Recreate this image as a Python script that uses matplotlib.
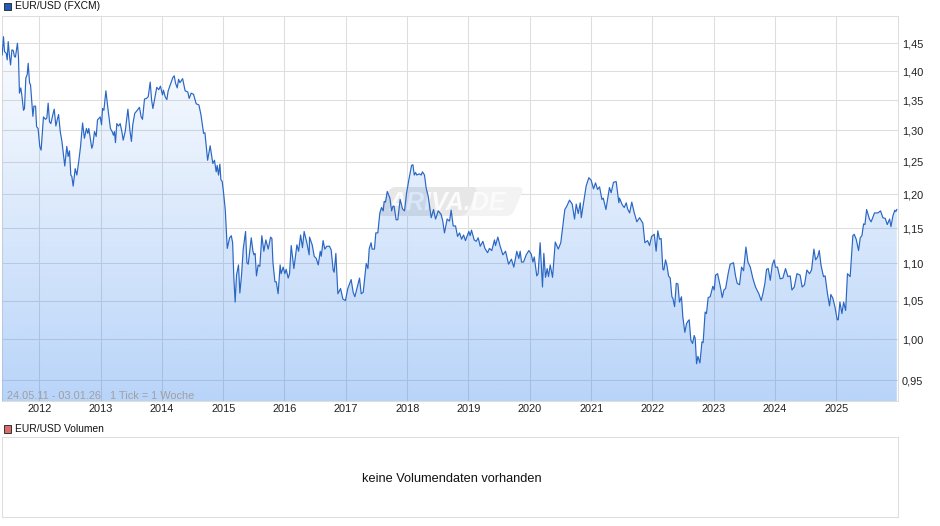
import numpy as np
import matplotlib
matplotlib.use('Agg')
import matplotlib.pyplot as plt
from matplotlib.patches import Rectangle, FancyBboxPatch
from matplotlib.transforms import Affine2D
from matplotlib.ticker import FixedLocator, NullLocator

plt.rcParams['font.family'] = ['Liberation Sans', 'DejaVu Sans']

START = np.datetime64('2011-05-24')
END = np.datetime64('2026-01-03')

# days since START
days = [1, 9, 15, 25, 31, 37, 45, 51, 59, 67, 74, 80, 92, 98, 104, 112, 118, 128, 134, 142,
        150, 156, 164, 170, 184, 190, 200, 206, 215, 225, 233, 247, 259, 267, 275, 283, 291, 303, 311, 321,
        329, 337, 347, 357, 367, 374, 386, 394, 402, 410, 416, 424, 436, 446, 458, 468, 480, 491, 503, 511,
        517, 535, 541, 551, 561, 569, 585, 593, 599, 607, 619, 631, 646, 656, 664, 670, 676, 684, 694, 704,
        714, 722, 734, 750, 762, 771, 779, 791, 803, 819, 829, 837, 849, 861, 871, 883, 891, 899, 910, 922,
        934, 944, 956, 962, 972, 982, 990, 1006, 1018, 1026, 1034, 1044, 1052, 1060, 1076, 1091, 1107, 1115, 1127, 1141,
        1157, 1173, 1185, 1201, 1209, 1225, 1240, 1256, 1266, 1276, 1282, 1290, 1298, 1304, 1312, 1320, 1330,
        1336, 1342, 1356, 1366, 1374, 1381, 1389, 1397, 1409, 1417, 1427, 1437, 1451, 1459, 1467, 1485, 1495, 1501, 1508,
        1516, 1526, 1536, 1548, 1560, 1572, 1586, 1600, 1608, 1614, 1626, 1634, 1645, 1657, 1663, 1675, 1685, 1693, 1705,
        1713, 1723, 1739, 1757, 1767, 1779, 1790, 1800, 1816, 1830,
        1832, 1848, 1860, 1872, 1884, 1896, 1902, 1913, 1923, 1935, 1951, 1961, 1973, 1979, 1989, 2001, 2017, 2031, 2046, 2060,
        2080, 2092, 2102, 2130, 2140, 2152, 2170, 2180, 2188, 2199, 2205, 2219, 2227, 2239, 2251, 2261, 2271, 2277, 2285, 2295,
        2311, 2321, 2329, 2336, 2348, 2358, 2372, 2386, 2398, 2410, 2424, 2440, 2448, 2456, 2464, 2471, 2487, 2497, 2505, 2517,
        2527, 2539, 2557, 2571, 2583, 2599, 2616, 2626, 2636, 2652, 2666, 2676, 2688, 2702, 2714, 2726, 2738, 2750, 2761, 2781,
        2789, 2797, 2813, 2825, 2837, 2849, 2865, 2877, 2893, 2904, 2918, 2934, 2940, 2954, 2968, 2984, 3000, 3018, 3035, 3049,
        3067, 3079, 3087, 3095, 3107, 3123, 3139, 3153, 3163, 3171, 3186, 3194, 3206, 3220, 3228, 3238, 3248, 3256, 3266, 3280,
        3296, 3314, 3329, 3341, 3353, 3365, 3381, 3397, 3411, 3421, 3433, 3445, 3451, 3466, 3480, 3496, 3510, 3524, 3536, 3548,
        3560, 3574, 3582, 3598, 3619, 3629, 3643, 3659, 3675,
        3679, 3695, 3707, 3719, 3727, 3739, 3752, 3766, 3782, 3798, 3818, 3830, 3846, 3858, 3870, 3886, 3897, 3907, 3917, 3927,
        3937, 3943, 3953, 3961, 3971, 3981, 3991, 3997, 4007, 4017, 4027, 4036, 4048, 4056, 4068, 4078, 4086, 4094, 4104, 4114,
        4124, 4130, 4138, 4146, 4158, 4170, 4177, 4189, 4197, 4207, 4219, 4235, 4243, 4251, 4263, 4279, 4291, 4301, 4311, 4326,
        4338, 4358, 4370, 4380, 4394, 4406, 4418, 4432, 4444, 4458, 4473, 4489, 4509, 4523, 4533, 4545, 4555, 4565, 4577, 4589,
        4600, 4608, 4620, 4636, 4652, 4668, 4682, 4696, 4706, 4720, 4736, 4755, 4767, 4781, 4795, 4811, 4823, 4837, 4847, 4859,
        4869, 4879, 4894, 4904, 4918, 4930, 4938, 4950, 4962, 4976, 4982, 4992, 5004, 5014, 5026, 5037, 5053, 5069, 5077, 5089,
        5103, 5113, 5123, 5133, 5141, 5151, 5168, 5178, 5198, 5218, 5234, 5248, 5262, 5274, 5288, 5296, 5308, 5319, 5325, 5331]

rates = [1.429, 1.462, 1.435, 1.432, 1.420, 1.453, 1.426, 1.411, 1.438, 1.437, 1.426, 1.425, 1.450, 1.426, 1.362, 1.371, 1.359, 1.333, 1.336, 1.388,
         1.394, 1.414, 1.380, 1.376, 1.323, 1.340, 1.340, 1.306, 1.303, 1.274, 1.268, 1.322, 1.318, 1.320, 1.345, 1.314, 1.311, 1.326, 1.335, 1.307,
         1.317, 1.326, 1.298, 1.282, 1.258, 1.243, 1.274, 1.258, 1.267, 1.229, 1.227, 1.212, 1.239, 1.229, 1.252, 1.274, 1.312, 1.287, 1.303, 1.295,
         1.303, 1.271, 1.276, 1.298, 1.290, 1.317, 1.322, 1.309, 1.336, 1.333, 1.366, 1.336, 1.303, 1.298, 1.292, 1.298, 1.280, 1.311, 1.307, 1.311,
         1.298, 1.284, 1.298, 1.335, 1.300, 1.282, 1.309, 1.328, 1.332, 1.338, 1.322, 1.318, 1.352, 1.353, 1.356, 1.381, 1.351, 1.336, 1.353, 1.372,
         1.368, 1.374, 1.359, 1.367, 1.356, 1.351, 1.366, 1.379, 1.389, 1.392, 1.379, 1.371, 1.386, 1.380, 1.387, 1.366, 1.364, 1.353, 1.362, 1.360,
         1.344, 1.342, 1.326, 1.295, 1.296, 1.252, 1.275, 1.247, 1.252, 1.234, 1.244, 1.229, 1.246, 1.222, 1.219, 1.202, 1.177,
         1.148, 1.121, 1.136, 1.139, 1.129, 1.082, 1.048, 1.084, 1.098, 1.060, 1.084, 1.120, 1.145, 1.101, 1.099, 1.136, 1.117, 1.112, 1.114,
         1.083, 1.098, 1.096, 1.139, 1.117, 1.133, 1.120, 1.137, 1.135, 1.102, 1.075, 1.075, 1.059, 1.098, 1.086, 1.095, 1.086, 1.092, 1.080,
         1.086, 1.125, 1.093, 1.126, 1.117, 1.140, 1.122, 1.145, 1.129, 1.112,
         1.137, 1.126, 1.110, 1.107, 1.098, 1.117, 1.110, 1.132, 1.120, 1.124, 1.124, 1.119, 1.091, 1.088, 1.114, 1.059, 1.066, 1.052, 1.050, 1.066,
         1.078, 1.061, 1.055, 1.080, 1.059, 1.061, 1.100, 1.093, 1.121, 1.129, 1.120, 1.120, 1.143, 1.143, 1.172, 1.180, 1.175, 1.189, 1.188, 1.204,
         1.194, 1.175, 1.182, 1.182, 1.162, 1.162, 1.192, 1.178, 1.175, 1.201, 1.222, 1.244, 1.245, 1.229, 1.233, 1.229, 1.231, 1.229, 1.234, 1.229,
         1.209, 1.197, 1.165, 1.177, 1.163, 1.175, 1.170, 1.160, 1.143, 1.163, 1.160, 1.176, 1.153, 1.153, 1.138, 1.143, 1.134, 1.140, 1.132, 1.145,
         1.139, 1.147, 1.133, 1.131, 1.136, 1.124, 1.131, 1.121, 1.115, 1.121, 1.118, 1.133, 1.125, 1.137, 1.124, 1.112, 1.117, 1.099, 1.106, 1.095,
         1.117, 1.107, 1.117, 1.102, 1.102, 1.112, 1.118, 1.113, 1.102, 1.109, 1.083, 1.086, 1.129, 1.068, 1.114, 1.081, 1.093, 1.082, 1.098, 1.081,
         1.130, 1.120, 1.129, 1.153, 1.177, 1.182, 1.191, 1.185, 1.163, 1.185, 1.171, 1.187, 1.165, 1.189, 1.212, 1.225, 1.221, 1.208, 1.217, 1.207,
         1.211, 1.192, 1.194, 1.177, 1.210, 1.202, 1.218, 1.219, 1.187,
         1.194, 1.184, 1.180, 1.187, 1.178, 1.172, 1.188, 1.173, 1.159, 1.165, 1.157, 1.129, 1.132, 1.125, 1.138, 1.141, 1.117, 1.146, 1.134, 1.135,
         1.092, 1.091, 1.105, 1.098, 1.083, 1.080, 1.055, 1.053, 1.042, 1.073, 1.072, 1.048, 1.055, 1.029, 1.009, 1.020, 1.023, 1.025, 0.999, 0.995,
         1.005, 1.001, 0.970, 0.979, 0.971, 0.997, 0.996, 1.035, 1.033, 1.054, 1.055, 1.069, 1.064, 1.084, 1.086, 1.069, 1.054, 1.064, 1.066, 1.086,
         1.099, 1.101, 1.083, 1.073, 1.071, 1.095, 1.090, 1.123, 1.102, 1.095, 1.080, 1.068, 1.059, 1.050, 1.059, 1.073, 1.092, 1.093, 1.077, 1.098,
         1.105, 1.095, 1.095, 1.079, 1.080, 1.093, 1.082, 1.083, 1.064, 1.068, 1.086, 1.084, 1.068, 1.071, 1.091, 1.086, 1.091, 1.120, 1.105, 1.109,
         1.118, 1.098, 1.082, 1.083, 1.059, 1.043, 1.058, 1.053, 1.042, 1.025, 1.025, 1.048, 1.033, 1.048, 1.037, 1.086, 1.082, 1.139, 1.141, 1.134,
         1.118, 1.136, 1.139, 1.156, 1.155, 1.177, 1.163, 1.159, 1.172, 1.172, 1.175, 1.165, 1.164, 1.155, 1.163, 1.152, 1.168, 1.176, 1.174, 1.177]

price_ticks = [0.95, 1.00, 1.05, 1.10, 1.15, 1.20, 1.25, 1.30, 1.35, 1.40, 1.45]
years = list(range(2012, 2026))

W, H = 940, 526
GRID = '#dedede'
LINE = '#2a66c4'

def px_axes(left, top, right, bottom):
    return [left / W, 1 - bottom / H, (right - left) / W, (bottom - top) / H]

fig = plt.figure(figsize=(W / 100, H / 100), dpi=100, facecolor='white')
ax = fig.add_axes(px_axes(2.0, 16.0, 898.0, 401.0))

dates = START + np.array(days).astype('timedelta64[D]')
ax.set_yscale('log')
ax.set_xlim(START, END)
ax.set_ylim(0.9257, 1.5004)
ax.set_axisbelow(True)

year_dates = [np.datetime64(f'{y}-01-01') for y in years]
ax.xaxis.set_major_locator(FixedLocator(matplotlib.dates.date2num(year_dates)))
ax.xaxis.set_minor_locator(NullLocator())
ax.set_xticklabels([str(y) for y in years])
ax.yaxis.set_major_locator(FixedLocator(price_ticks))
ax.yaxis.set_minor_locator(NullLocator())
ax.set_yticklabels([f'{t:.2f}'.replace('.', ',') for t in price_ticks])
ax.yaxis.tick_right()
ax.tick_params(axis='both', length=0, labelsize=7.9, labelcolor='#222222')
ax.tick_params(axis='x', pad=2.0)
ax.tick_params(axis='y', pad=2.8)
ax.grid(True, color=GRID, lw=0.75)
for s in ax.spines.values():
    s.set_color(GRID)
    s.set_linewidth(0.75)

# watermark: pale box with a darker left part, skewed
skew = Affine2D().translate(-378, -216).skew_deg(-23, 0).translate(378, 216)
to_fig = Affine2D().scale(1, -1).translate(0, H)
for width, col in [(134, '#f3f3f3'), (88, '#e7e7e7')]:
    box = FancyBboxPatch((378, 187), width, 29, boxstyle='round,pad=0,rounding_size=6', lw=0,
                         fc=col, zorder=1.5)
    box.set_transform(skew + to_fig)
    ax.add_patch(box)
ax.text(447 / W, 1 - 203 / H, 'ARIVA.DE', transform=fig.transFigure, color='#fbfbfb', fontsize=18,
        fontweight='bold', style='italic', ha='center', va='center', zorder=1.6)

# gradient fill below the line
grad = np.zeros((256, 1, 4))
grad[..., 0] = 20 / 255
grad[..., 1] = 112 / 255
grad[..., 2] = 235 / 255
grad[:, 0, 3] = np.linspace(0.0, 0.30, 256)
poly = ax.fill_between(dates, rates, 0.9245, color='none', lw=0)
img = fig.add_axes(ax.get_position(), frameon=False)
img.set_axis_off()
im = img.imshow(grad, aspect='auto', extent=[0, 1, 0, 1], origin='upper', zorder=2)
im.set_clip_path(poly.get_paths()[0], transform=ax.transData)
top = fig.add_axes(ax.get_position(), frameon=False, sharex=ax, sharey=ax)
top.set_axis_off()
top.plot(dates, rates, color=LINE, lw=0.85, solid_joinstyle='round')

fig.text(7 / W, 1 - 396 / H, '24.05.11 - 03.01.26   1 Tick = 1 Woche', color='#a0a0a0', fontsize=7.9,
         ha='left', va='center', zorder=5)

# volume panel
vol = fig.add_axes(px_axes(2.0, 437.0, 898.0, 517.0))
vol.set_xticks([])
vol.set_yticks([])
for s in vol.spines.values():
    s.set_color(GRID)
    s.set_linewidth(0.75)
vol.text(0.5017, 0.475, 'keine Volumendaten vorhanden', transform=vol.transAxes, ha='center', va='center',
         fontsize=9.15, color='#111111')

# legend swatches and titles
for y, col, label in [(6.3, '#1f5bbf', 'EUR/USD (FXCM)'), (428.8, '#d96c6c', 'EUR/USD Volumen')]:
    fig.add_artist(Rectangle((3.5 / W, 1 - (y + 3.7) / H), 7.5 / W, 7.5 / H, transform=fig.transFigure,
                             fc=col, ec='#333333', lw=0.7))
    fig.text(15 / W, 1 - y / H, label, fontsize=7.35, color='#111111', ha='left', va='center')

fig.savefig('out.png', dpi=100)
